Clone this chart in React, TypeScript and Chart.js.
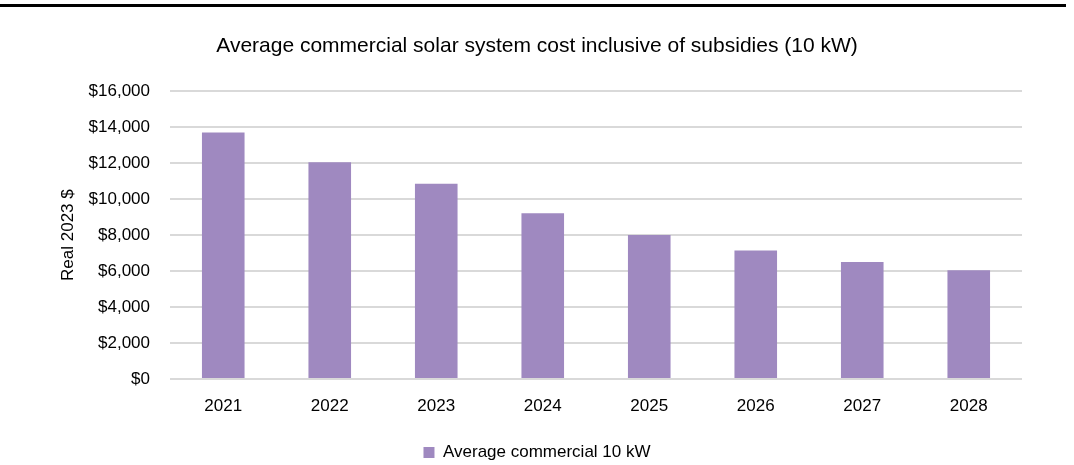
import React, { useEffect, useRef } from "react";
import { Chart, registerables } from "chart.js";

Chart.register(...registerables);

const categories = ["2021", "2022", "2023", "2024", "2025", "2026", "2027", "2028"];
const averageCommercial10kW = [13700, 12050, 10850, 9220, 8000, 7150, 6500, 6050];
const seriesLabel = "Average commercial 10 kW";
const chartTitle = "Average commercial solar system cost inclusive of subsidies (10 kW)";
const yAxisTitle = "Real 2023 $";

const FONT = "'Liberation Sans', Arial, sans-serif";

const topRule = {
  id: "topRule",
  beforeDraw(chart: any) {
    const ctx = chart.ctx;
    ctx.save();
    ctx.fillStyle = "#000";
    ctx.fillRect(0, 4, 1066, 3);
    ctx.restore();
  },
};

export default function App() {
  const ref = useRef<HTMLCanvasElement>(null);
  useEffect(() => {
    if (!ref.current) return;
    const chart = new Chart(ref.current, {
      type: "bar",
      data: {
        labels: categories,
        datasets: [
          {
            label: seriesLabel,
            data: averageCommercial10kW,
            backgroundColor: "#9f89c0",
            borderWidth: 0,
            barPercentage: 0.4,
            categoryPercentage: 1,
          },
        ],
      },
      options: {
        animation: false,
        responsive: false,
        layout: { padding: { left: 0, right: 0, top: 0, bottom: -6 } },
        plugins: {
          title: {
            display: true,
            text: chartTitle,
            color: "#000",
            font: { family: FONT, size: 21, weight: "normal" },
            padding: { top: 34, bottom: 32 },
          },
          legend: {
            display: true,
            position: "bottom",
            labels: {
              color: "#000",
              font: { family: FONT, size: 17 },
              boxWidth: 11,
              boxHeight: 11,
              padding: 0,
            },
          },
          tooltip: { enabled: false },
        },
        scales: {
          x: {
            grid: { display: false, drawTicks: false },
            border: { display: false },
            ticks: { color: "#000", font: { family: FONT, size: 17 }, padding: 17 },
            afterFit: (s: any) => {
              s.height = 65;
            },
          },
          y: {
            min: 0,
            max: 16000,
            grid: { color: "#d9d9d9", lineWidth: 2, drawTicks: false },
            border: { display: false },
            ticks: {
              stepSize: 2000,
              color: "#000",
              font: { family: FONT, size: 17 },
              padding: 20,
              callback: (v: any) => "$" + Number(v).toLocaleString("en-US"),
            },
            title: {
              display: true,
              text: yAxisTitle,
              color: "#000",
              font: { family: FONT, size: 17 },
              padding: { top: 58, bottom: 0 },
            },
            afterFit: (s: any) => {
              s.width = 170;
            },
          },
          yRight: {
            position: "right",
            display: true,
            grid: { display: false, drawTicks: false },
            border: { display: false },
            ticks: { display: false },
            afterFit: (s: any) => {
              s.width = 52;
            },
          },
        },
      },
      plugins: [topRule],
    } as any);
    return () => chart.destroy();
  }, []);
  return (
    <div style={{ position: "absolute", left: 0, top: 0, width: 1074, height: 465, background: "#fff" }}>
      <canvas ref={ref} width={1074} height={465} />
    </div>
  );
}
